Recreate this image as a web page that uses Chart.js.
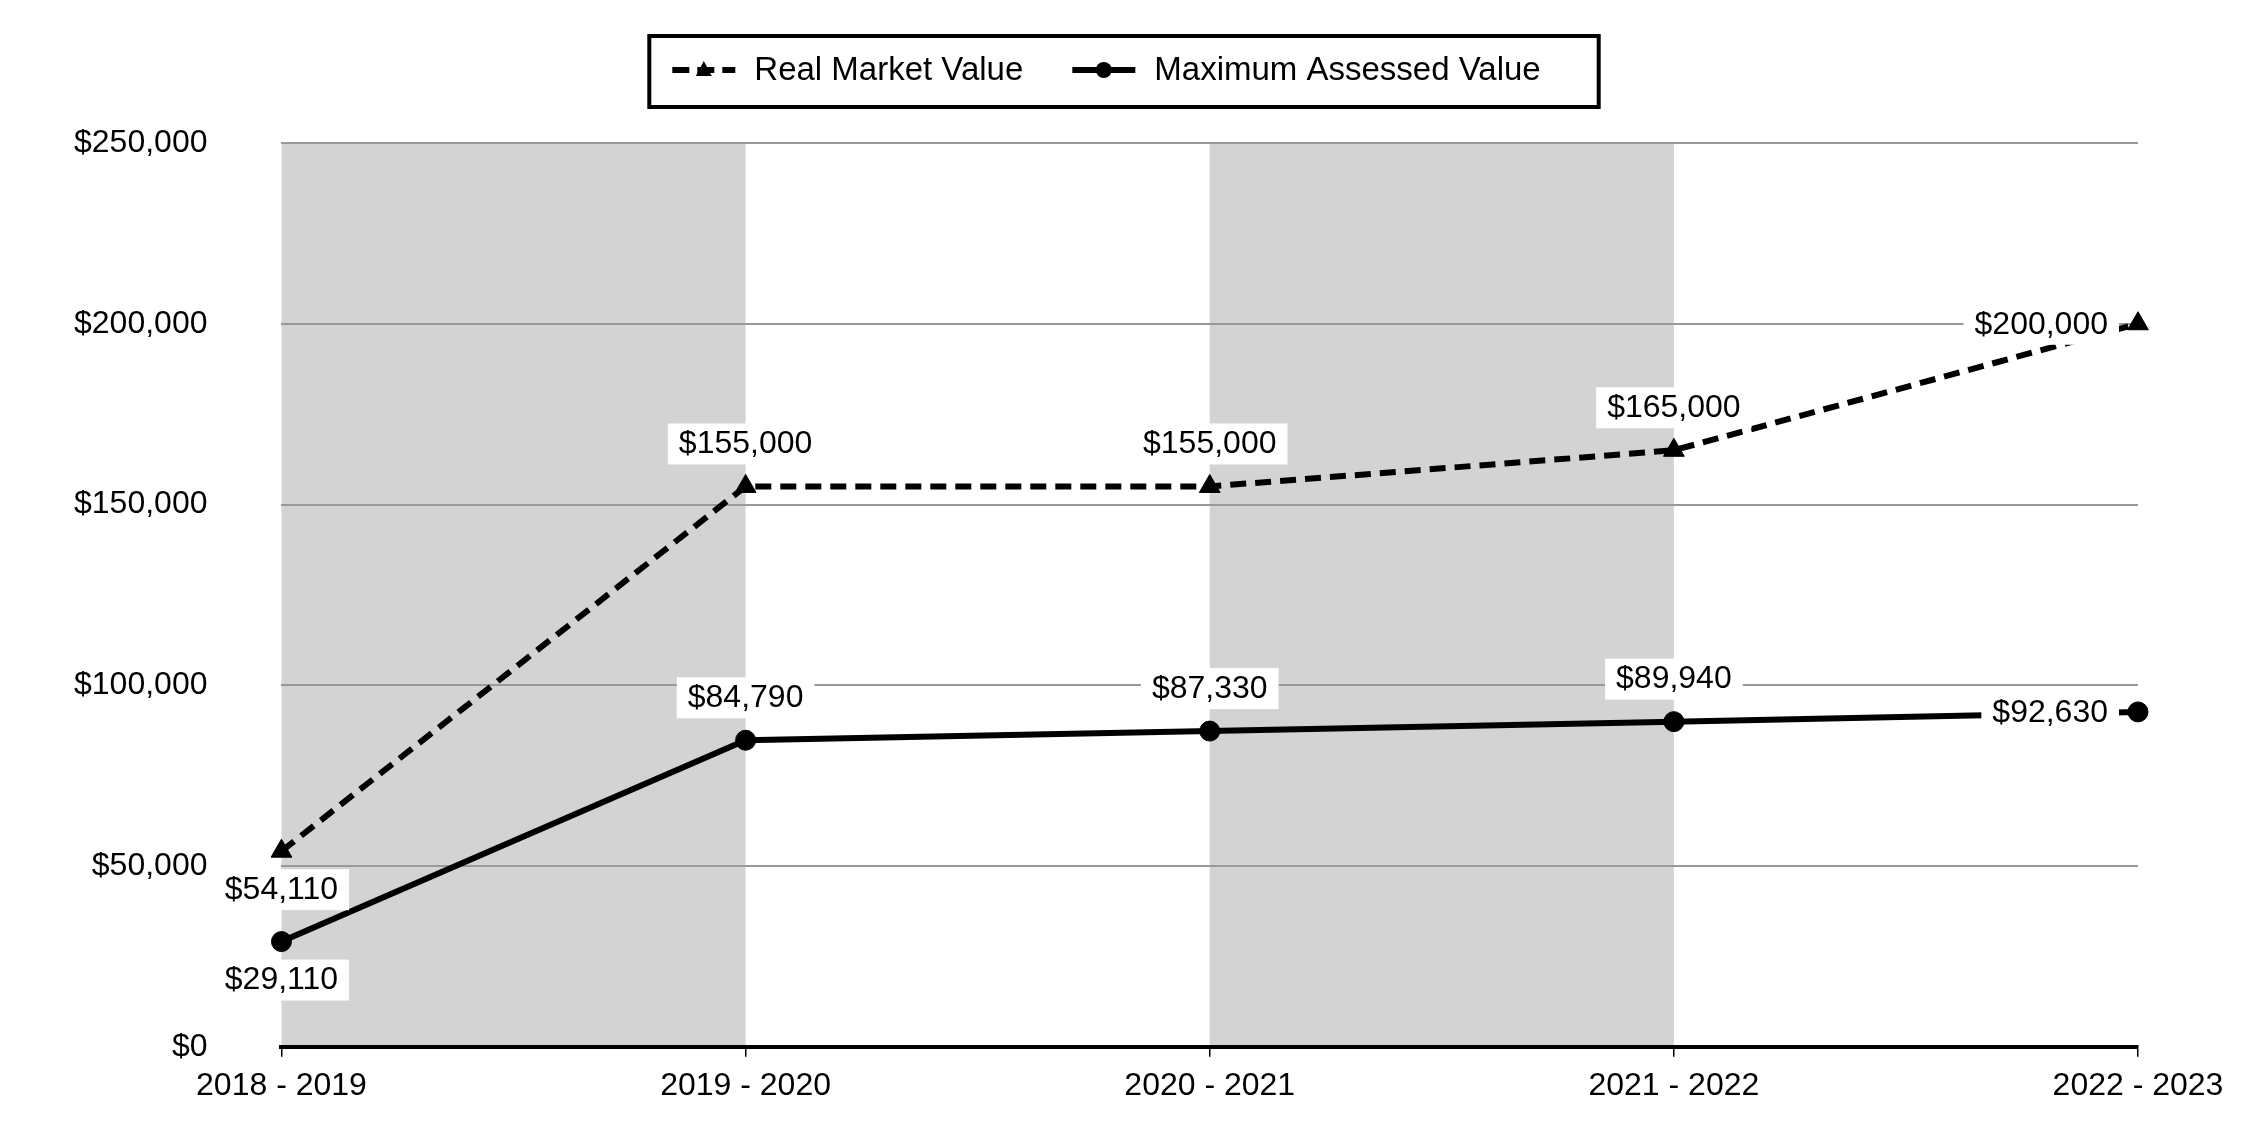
<!DOCTYPE html>
<html>
<head>
<meta charset="utf-8">
<script src="https://cdn.jsdelivr.net/npm/chart.js@4.4.1/dist/chart.umd.min.js"></script>
<style>
  html, body { margin: 0; padding: 0; background: #fff; }
</style>
</head>
<body>
<canvas id="myChart" width="2250" height="1140"></canvas>
<script>
const years = ["2018 - 2019", "2019 - 2020", "2020 - 2021", "2021 - 2022", "2022 - 2023"];
const realMarketValue = [54110, 155000, 155000, 165000, 200000];
const maxAssessedValue = [29110, 84790, 87330, 89940, 92630];
const yTicks = [0, 50000, 100000, 150000, 200000, 250000];

const FONT = "'Liberation Sans', Arial, sans-serif";
Chart.defaults.font.family = FONT;
Chart.defaults.font.size = 32;
Chart.defaults.color = "#000";

function money(v) {
  return "$" + v.toLocaleString("en-US");
}

// grey column bands behind every other interval
const bands = {
  id: "bands",
  beforeDraw(chart) {
    const { ctx, chartArea: a, scales: { x } } = chart;
    ctx.save();
    ctx.fillStyle = "#d3d3d3";
    for (let i = 0; i < years.length - 1; i += 2) {
      const x0 = x.getPixelForValue(i);
      const x1 = x.getPixelForValue(i + 1);
      ctx.fillRect(x0, a.top, x1 - x0, a.bottom - a.top);
    }
    ctx.restore();
  }
};

// value labels on white boxes
const valueLabels = {
  id: "valueLabels",
  afterDatasetsDraw(chart, args, opts) {
    const ctx = chart.ctx;
    ctx.save();
    ctx.font = "32px " + FONT;
    ctx.textBaseline = "middle";
    ctx.textAlign = "center";
    chart.data.datasets.forEach((ds, di) => {
      chart.getDatasetMeta(di).data.forEach((pt, i) => {
        const txt = money(ds.data[i]);
        const w = ctx.measureText(txt).width;
        const pos = opts.position[i];
        let cx = pt.x, cy = pt.y;
        if (pos === "above") cy -= 43;
        else if (pos === "below") cy += 38;
        else cx = pt.x - 30 - w / 2;
        ctx.fillStyle = "#fff";
        ctx.fillRect(cx - w / 2 - 11, cy - 20, w + 22, 41);
        ctx.fillStyle = "#000";
        ctx.fillText(txt, cx, cy + 1);
      });
    });
    ctx.restore();
  }
};

// legend in a black frame, line + marker symbols
const boxedLegend = {
  id: "boxedLegend",
  afterDraw(chart) {
    const ctx = chart.ctx;
    ctx.save();
    ctx.font = "33px " + FONT;
    ctx.textBaseline = "middle";
    ctx.textAlign = "left";
    const sym = 63, gapText = 19, gapItem = 49, padL = 23, padR = 58;
    const items = chart.data.datasets.map(ds => ({ ds, w: ctx.measureText(ds.label).width }));
    const inner = items.reduce((s, it) => s + sym + gapText + it.w, 0) + gapItem * (items.length - 1);
    const boxW = padL + inner + padR;
    const left = (chart.width - boxW) / 2 - 1;
    const top = 36, bottom = 107, cy = 70;

    ctx.strokeStyle = "#000";
    ctx.lineWidth = 4;
    ctx.strokeRect(left, top, boxW, bottom - top);

    let x = left + padL;
    items.forEach(({ ds, w }) => {
      ctx.strokeStyle = ds.borderColor;
      ctx.fillStyle = ds.borderColor;
      ctx.lineWidth = 6;
      ctx.setLineDash(ds.borderDash ? [17, 8] : []);
      ctx.beginPath();
      ctx.moveTo(x, cy);
      ctx.lineTo(x + sym, cy);
      ctx.stroke();
      ctx.setLineDash([]);
      const mx = x + sym / 2;
      ctx.beginPath();
      if (ds.pointStyle === "triangle") {
        ctx.moveTo(mx, cy - 9);
        ctx.lineTo(mx + 8, cy + 6);
        ctx.lineTo(mx - 8, cy + 6);
        ctx.closePath();
      } else {
        ctx.arc(mx, cy, 8, 0, Math.PI * 2);
      }
      ctx.fill();
      ctx.fillStyle = "#000";
      ctx.fillText(ds.label, x + sym + gapText, cy + 1);
      x += sym + gapText + w + gapItem;
    });
    ctx.restore();
  }
};

const ctx = document.getElementById("myChart");

const lineChart = new Chart(ctx, {
  type: "line",
  data: {
    labels: years,
    datasets: [
      {
        label: "Real Market Value",
        data: realMarketValue,
        borderColor: "#000",
        backgroundColor: "#000",
        borderWidth: 6,
        borderDash: [16, 9],
        pointStyle: "triangle",
        pointRadius: 12,
        pointBorderWidth: 1,
        tension: 0,
        clip: false,
      },
      {
        label: "Maximum Assessed Value",
        data: maxAssessedValue,
        borderColor: "#000",
        backgroundColor: "#000",
        borderWidth: 6,
        pointStyle: "circle",
        pointRadius: 10,
        pointBorderWidth: 1,
        tension: 0,
        clip: false,
      },
    ],
  },
  options: {
    responsive: false,
    animation: false,
    layout: {
      padding: { top: 143, left: 0, right: 112, bottom: 0 },
    },
    scales: {
      x: {
        offset: false,
        afterFit(scale) {
          scale.height = 78;
        },
        grid: {
          drawOnChartArea: false,
          drawTicks: true,
          tickLength: 10,
          color: "#000",
          lineWidth: 1.5,
        },
        border: { display: true, color: "#000", width: 4 },
        ticks: { padding: 10, maxRotation: 0, autoSkip: false },
      },
      y: {
        min: 0,
        max: 250000,
        afterBuildTicks(scale) {
          scale.ticks = yTicks.map(v => ({ value: v }));
        },
        grid: { drawTicks: false, color: "#999", lineWidth: 2 },
        border: { display: false },
        ticks: { padding: 74, callback: v => money(v) },
      },
    },
    plugins: {
      legend: { display: false },
      tooltip: { enabled: false },
      valueLabels: { position: ["below", "above", "above", "above", "left"] },
    },
  },
  plugins: [bands, valueLabels, boxedLegend],
});
</script>
</body>
</html>
